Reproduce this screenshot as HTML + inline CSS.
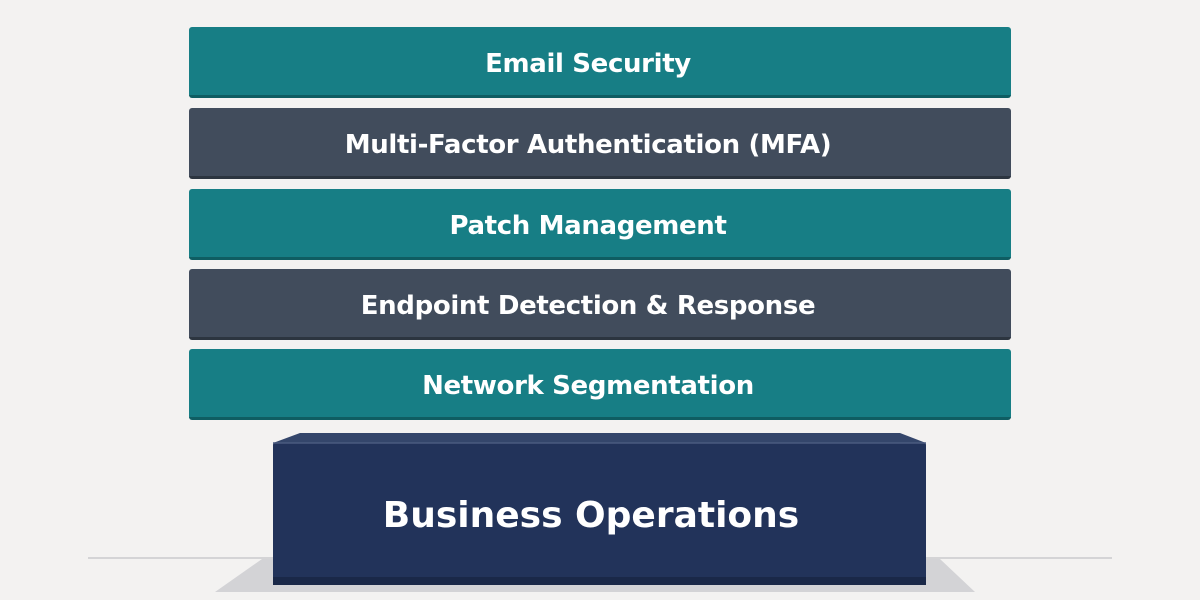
<!DOCTYPE html><html><head><style>
body{margin:0;width:1200px;height:600px;background:#f3f2f1;position:relative;overflow:hidden;font-family:"DejaVu Sans","Liberation Sans",sans-serif}
.b{position:absolute;left:189px;width:822px;height:71px;border-radius:3px;color:#fff;font-weight:bold;font-size:26px;letter-spacing:-0.35px;display:flex;align-items:center;justify-content:center;box-sizing:border-box;padding-top:5px;padding-right:24px}
.t{background:#177e85;border-bottom:3px solid #0f5d62}
.s{background:#414c5c;border-bottom:3px solid #2c3540}
</style></head><body>
<svg style="position:absolute;left:0;top:0" width="1200" height="600">
<line x1="88" y1="558" x2="1112" y2="558" stroke="#d4d4d6" stroke-width="2"/>
<polygon points="262,559 940,559 975,592 215,592" fill="#d3d3d6"/>
<polygon points="273,443 300,433 900,433 926,443" fill="#34466b"/>
<rect x="273" y="443" width="653" height="142" rx="2" fill="#22335a"/>
<rect x="273" y="577" width="653" height="8" fill="#1a2848"/>
<line x1="273" y1="443" x2="926" y2="443" stroke="#4a5b80" stroke-width="1.5"/>
<text x="591" y="527" text-anchor="middle" fill="#fff" font-family="DejaVu Sans, Liberation Sans, sans-serif" font-weight="bold" font-size="36">Business Operations</text>
</svg>
<div class="b t" style="top:27px">Email Security</div>
<div class="b s" style="top:108px">Multi-Factor Authentication (MFA)</div>
<div class="b t" style="top:189px">Patch Management</div>
<div class="b s" style="top:269px">Endpoint Detection &amp; Response</div>
<div class="b t" style="top:349px">Network Segmentation</div>
</body></html>
